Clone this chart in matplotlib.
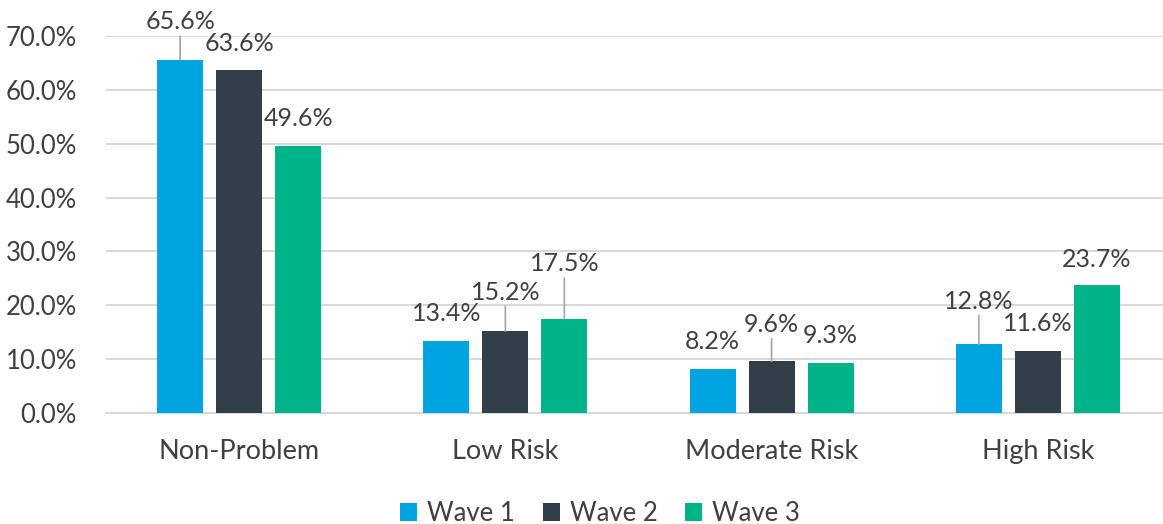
import matplotlib
matplotlib.use("Agg")
import matplotlib.pyplot as plt
import numpy as np
from matplotlib.ticker import FuncFormatter

plt.rcParams['font.family'] = ['Lato', 'DejaVu Sans']

categories = ['Non-Problem', 'Low Risk', 'Moderate Risk', 'High Risk']
wave_names = ['Wave 1', 'Wave 2', 'Wave 3']
wave1 = [65.6, 13.4, 8.2, 12.8]
wave2 = [63.6, 15.2, 9.6, 11.6]
wave3 = [49.6, 17.5, 9.3, 23.7]

colors = ['#00A5E0', '#333F48', '#00B388']
text_color = '#404040'
# label lift above each bar top, in pixels (bigger ones get a leader line)
label_lift = [
    [38, 27, 27, 43],
    [27, 39, 37, 27],
    [27, 55, 27, 26],
]

fig = plt.figure(figsize=(11.63, 5.24), dpi=100)
ax = fig.add_axes([0.0911, 0.2118, 0.9089, 0.7195])

x = np.arange(len(categories))
width = 0.173
step = 0.2215

for i, (name, vals) in enumerate(zip(wave_names, [wave1, wave2, wave3])):
    xs = x + (i - 1) * step
    ax.bar(xs, vals, width, color=colors[i], label=name, zorder=3)
    for j, v in enumerate(vals):
        lift = label_lift[i][j]
        arrow = None
        if lift > 30:
            arrow = dict(arrowstyle='-', color='#A6A6A6', lw=1.2,
                         shrinkA=0, shrinkB=0)
        ax.annotate(f'{v:.1f}%', xy=(xs[j], v), xytext=(0, lift),
                    textcoords='offset pixels', ha='center', va='center',
                    fontsize=18, color=text_color, arrowprops=arrow,
                    zorder=4)

ax.set_xlim(-0.5, 3.47)
ax.set_ylim(0, 70)
ax.set_yticks(np.arange(0, 71, 10))
ax.yaxis.set_major_formatter(FuncFormatter(lambda v, p: f'{v:.1f}%'))
ax.set_xticks(x)
ax.set_xticklabels(categories)
ax.tick_params(axis='both', length=0, labelcolor=text_color)
ax.tick_params(axis='y', pad=21, labelsize=18.5)
ax.tick_params(axis='x', pad=19, labelsize=19.5)
ax.grid(axis='y', color='#D9D9D9', lw=1.5, zorder=0)
for s in ['top', 'right', 'left']:
    ax.spines[s].set_visible(False)
ax.spines['bottom'].set_color('#D9D9D9')
ax.spines['bottom'].set_linewidth(1.5)

fig.legend(loc='center', bbox_to_anchor=(0.516, 0.02), ncol=3, frameon=False,
           fontsize=18.5, labelcolor=text_color, handlelength=0.65,
           handleheight=0.65, handletextpad=0.39, columnspacing=1.09)

fig.savefig('out.png', dpi=100)
